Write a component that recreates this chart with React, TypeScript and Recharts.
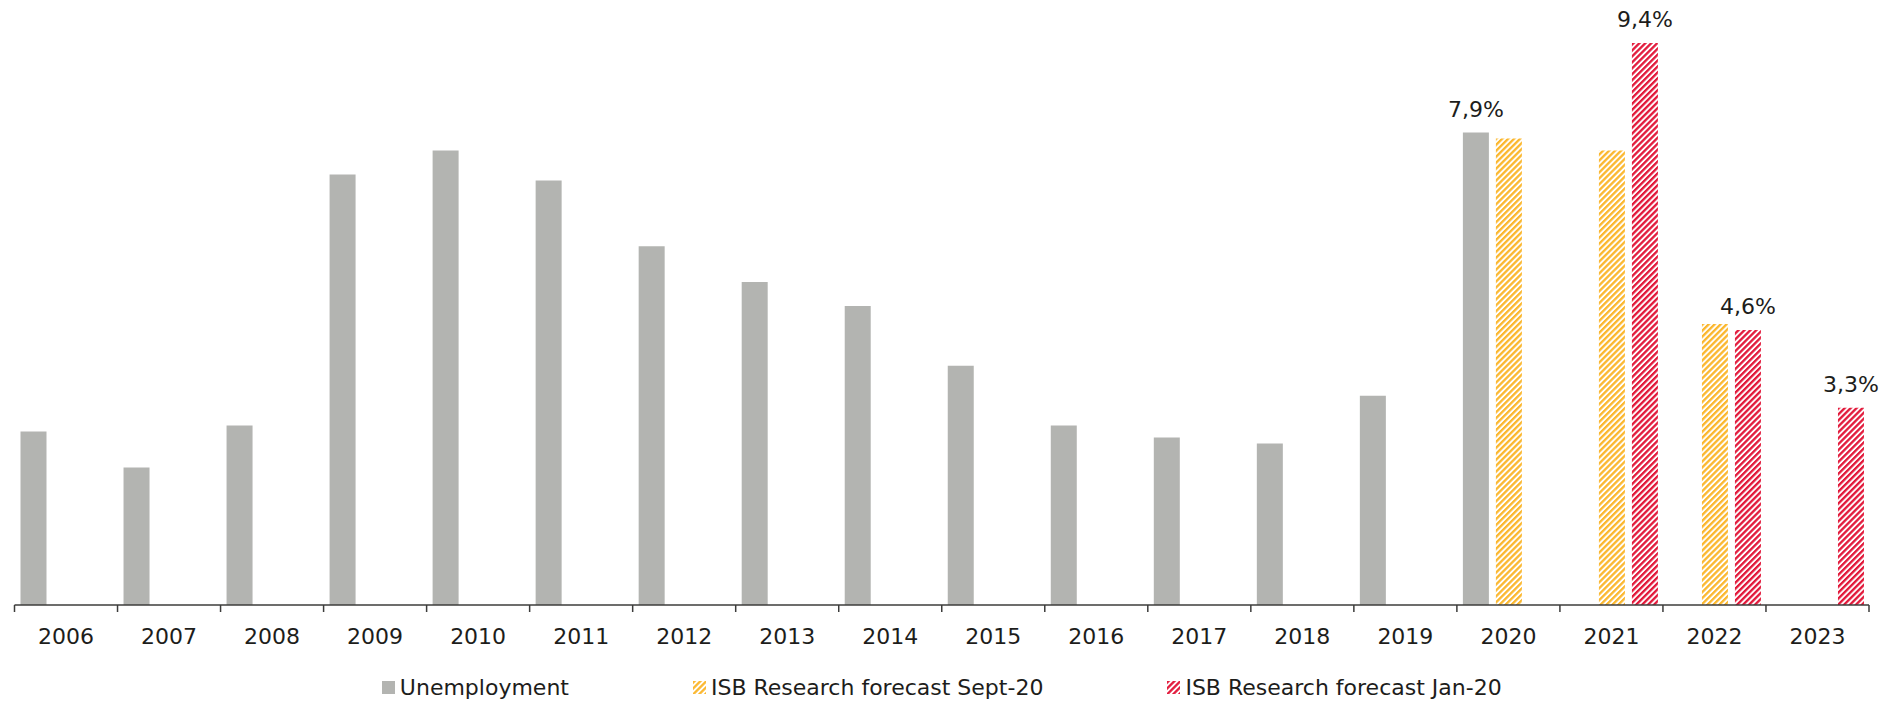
import React from 'react'
import { BarChart, Bar, XAxis, YAxis, LabelList, Legend } from 'recharts'

const years = [
  '2006', '2007', '2008', '2009', '2010', '2011', '2012', '2013', '2014',
  '2015', '2016', '2017', '2018', '2019', '2020', '2021', '2022', '2023',
]

const unemployment = [
  2.9, 2.3, 3.0, 7.2, 7.6, 7.1, 6.0, 5.4, 5.0, 4.0, 3.0, 2.8, 2.7, 3.5, 7.9, null, null, null,
]

const forecastSept20 = [
  null, null, null, null, null, null, null, null, null, null, null, null, null, null, 7.8, 7.6, 4.7, null,
]

const forecastJan20 = [
  null, null, null, null, null, null, null, null, null, null, null, null, null, null, null, 9.4, 4.6, 3.3,
]

// years whose bar carries a value label
const labelledUnemployment = ['2020']
const labelledJan20 = ['2021', '2022', '2023']

const seriesNames = {
  unemployment: 'Unemployment',
  sept20: 'ISB Research forecast Sept-20',
  jan20: 'ISB Research forecast Jan-20',
}

const data = years.map((year, i) => ({
  year,
  unemployment: unemployment[i],
  sept20: forecastSept20[i],
  jan20: forecastJan20[i],
  unemploymentLabel: labelledUnemployment.includes(year) ? unemployment[i] : null,
  jan20Label: labelledJan20.includes(year) ? forecastJan20[i] : null,
}))

const FONT = '"DejaVu Sans", sans-serif'
const TEXT = '#1d1d1b'
const GREY = '#b3b4b1'
const YELLOW = '#fbb72e'
const RED = '#e2183a'
const AXIS = '#3c3c3b'

const formatPct = (v: number) => v.toFixed(1).replace('.', ',') + '%'

function YearTick(props: any) {
  const { x, y, payload, index, lastIndex } = props
  const half = payload?.offset ?? 0
  return (
    <g>
      <line x1={x - half} x2={x - half} y1={y} y2={y + 7} stroke={AXIS} strokeWidth={1.5} />
      {index === lastIndex && (
        <line x1={x + half} x2={x + half} y1={y} y2={y + 7} stroke={AXIS} strokeWidth={1.5} />
      )}
      <text x={x} y={y + 39} textAnchor="middle" fontFamily={FONT} fontSize={22} fill={TEXT}>
        {payload.value}
      </text>
    </g>
  )
}

function ValueLabel(props: any) {
  const { x, y, width, value } = props
  if (value == null || value === '') return null
  return (
    <text
      x={Number(x) + Number(width) / 2}
      y={Number(y) - 16}
      textAnchor="middle"
      fontFamily={FONT}
      fontSize={22}
      fill={TEXT}
    >
      {formatPct(Number(value))}
    </text>
  )
}

function LegendIcon({ fill }: { fill: string }) {
  return (
    <svg width={13} height={13} style={{ display: 'block', marginRight: 5 }}>
      <rect width={13} height={13} fill={fill} />
    </svg>
  )
}

function ChartLegend() {
  const items = [
    { name: seriesNames.unemployment, fill: GREY },
    { name: seriesNames.sept20, fill: 'url(#hatchSept)' },
    { name: seriesNames.jan20, fill: 'url(#hatchJan)' },
  ]
  return (
    <div
      style={{
        height: 37,
        paddingTop: 8,
        boxSizing: 'border-box',
        display: 'flex',
        justifyContent: 'center',
        alignItems: 'center',
        gap: 124,
        fontFamily: FONT,
        fontSize: 22,
        color: TEXT,
      }}
    >
      {items.map((it) => (
        <div key={it.name} style={{ display: 'flex', alignItems: 'center' }}>
          <LegendIcon fill={it.fill} />
          <span>{it.name}</span>
        </div>
      ))}
    </div>
  )
}

export default function App() {
  return (
    <div style={{ position: 'absolute', left: 0, top: 0, background: '#fff' }}>
      <BarChart
        width={1901}
        height={702}
        data={data}
        margin={{ top: 7, right: 32, left: 14.5, bottom: 0 }}
        barCategoryGap={6}
        barGap={7}
      >
        <defs>
          <pattern id="hatchSept" width={4.2} height={4.2} patternUnits="userSpaceOnUse" patternTransform="rotate(45)">
            <rect width={2.3} height={4.2} fill={YELLOW} />
          </pattern>
          <pattern id="hatchJan" width={4.2} height={4.2} patternUnits="userSpaceOnUse" patternTransform="rotate(45)">
            <rect width={2.3} height={4.2} fill={RED} />
          </pattern>
        </defs>
        <XAxis
          dataKey="year"
          interval={0}
          height={60}
          axisLine={{ stroke: AXIS, strokeWidth: 1.5 }}
          tickLine={false}
          tickSize={0}
          tickMargin={0}
          tick={<YearTick lastIndex={years.length - 1} />}
        />
        <YAxis hide domain={[0, 10]} />
        <Legend verticalAlign="bottom" content={() => <ChartLegend />} />
        <Bar dataKey="unemployment" name={seriesNames.unemployment} fill={GREY} isAnimationActive={false}>
          <LabelList dataKey="unemploymentLabel" content={<ValueLabel />} />
        </Bar>
        <Bar dataKey="sept20" name={seriesNames.sept20} fill="url(#hatchSept)" isAnimationActive={false} />
        <Bar dataKey="jan20" name={seriesNames.jan20} fill="url(#hatchJan)" isAnimationActive={false}>
          <LabelList dataKey="jan20Label" content={<ValueLabel />} />
        </Bar>
      </BarChart>
    </div>
  )
}
